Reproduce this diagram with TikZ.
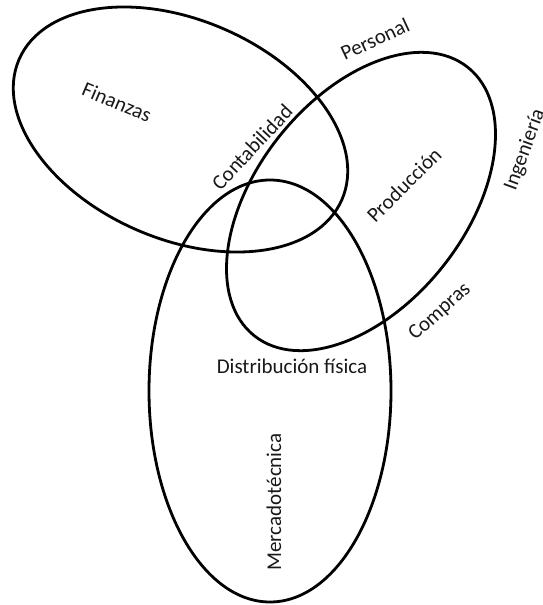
\documentclass[tikz,border=0pt]{standalone}
\usepackage{fontspec}
\setmainfont{Carlito}
\begin{document}
\begin{tikzpicture}[x=1pt,y=-1pt,
  area/.style={draw=black,line width=2.8pt},
  lbl/.style={font=\fontsize{21}{25}\selectfont,inner sep=0pt,text=black!90}]
\useasboundingbox[fill=white] (0,0) rectangle (542,605);

% Finanzas
\draw[area,rotate around={-23.5:(180.5,129.5)}]
  (180.5,129.5) ellipse[x radius=176, y radius=109.5];
% Producción
\draw[area,rotate around={51.5:(361,201.5)}]
  (361,201.5) ellipse[x radius=171.5, y radius=104.5];
% Mercadotécnica
\draw[area] (270,391) ellipse[x radius=121, y radius=211];

\node[lbl,rotate=-23] (fin) at (117,102) {Finanzas};
\node[lbl,rotate=47] (con) at (252,147) {Contabilidad};
\node[lbl,rotate=25] (per) at (375,39) {Personal};
\node[lbl,rotate=70] (ing) at (525,150) {Ingeniería};
\node[lbl,rotate=45] (pro) at (404,185) {Producción};
\node[lbl,rotate=42] (com) at (440,312) {Compras};
\node[lbl] (dis) at (292,366) {Distribución física};
\node[lbl,rotate=90] (mer) at (274,502) {Mercadotécnica};
\end{tikzpicture}
\end{document}
